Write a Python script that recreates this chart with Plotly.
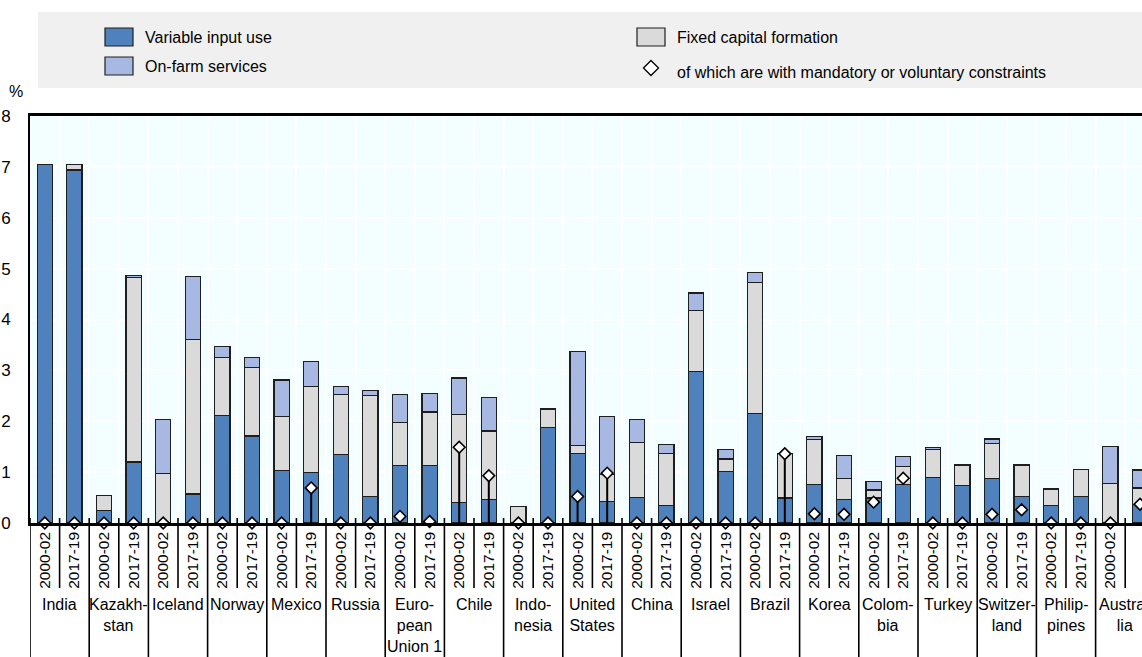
import plotly.graph_objects as go

# ---------------- data ----------------
countries = ["India", "Kazakh-<br>stan", "Iceland", "Norway", "Mexico", "Russia",
             "Euro-<br>pean<br>Union 1", "Chile", "Indo-<br>nesia", "United<br>States",
             "China", "Israel", "Brazil", "Korea", "Colom-<br>bia", "Turkey",
             "Switzer-<br>land", "Philip-<br>pines", "Austra-<br>lia"]
periods = ["2000-02", "2017-19"]

variable_input = [7.04, 6.94, 0.24, 1.20, 0.00, 0.57, 2.12, 1.71, 1.03, 0.99,
                  1.34, 0.52, 1.13, 1.13, 0.41, 0.46, 0.00, 1.88, 1.36, 0.42,
                  0.50, 0.34, 2.98, 1.02, 2.15, 0.49, 0.75, 0.46, 0.49, 0.75,
                  0.90, 0.73, 0.88, 0.52, 0.35, 0.52, 0.00, 0.36]
fixed_capital = [0.00, 0.10, 0.30, 3.63, 0.98, 3.04, 1.13, 1.35, 1.06, 1.70,
                 1.19, 1.99, 0.84, 1.05, 1.73, 1.35, 0.32, 0.35, 0.16, 0.53,
                 1.09, 1.02, 1.19, 0.24, 2.57, 0.87, 0.89, 0.41, 0.16, 0.36,
                 0.55, 0.41, 0.69, 0.62, 0.32, 0.53, 0.77, 0.33]
on_farm = [0.00, 0.00, 0.00, 0.04, 1.06, 1.23, 0.22, 0.19, 0.72, 0.48,
           0.16, 0.10, 0.56, 0.37, 0.71, 0.65, 0.01, 0.01, 1.85, 1.15,
           0.45, 0.18, 0.35, 0.19, 0.21, 0.00, 0.06, 0.45, 0.16, 0.19,
           0.03, 0.01, 0.08, 0.00, 0.00, 0.00, 0.73, 0.35]
constrained = [0, 0, 0, 0, 0, 0, 0, 0, 0, 0.69,
               0, 0, 0.13, 0.03, 1.49, 0.93, 0, 0, 0.52, 0.98,
               0, 0, 0, 0, 0, 1.36, 0.18, 0.17, 0.41, 0.88,
               0, 0, 0.17, 0.26, 0, 0, 0, 0.37]
stem_visible = [0, 0, 0, 0, 0, 0, 0, 0, 0, 1,
                0, 0, 0, 0, 1, 1, 0, 0, 1, 1,
                0, 0, 0, 0, 0, 1, 0, 0, 0, 0,
                0, 0, 0, 0, 0, 0, 0, 0]

# ---------------- style ----------------
FONT = "Liberation Sans, Arial, sans-serif"
C_VAR = "#4F81BD"
C_FIX = "#DADADA"
C_ONF = "#A7B9E3"
OUTLINE = "#1E1E1E"

W, H = 1142, 657
ML, MT, MB = 30, 116, 134
PW = 1112
PH = H - MT - MB
SLOT = 29.6

n = len(variable_input)
xpos = list(range(n))
year_labels = [periods[i % 2] for i in range(n)]


def px_x(p):
    return (p - ML) / PW


def px_y(p):
    return (H - MB - p) / PH


fig = go.Figure()
bar_style = dict(width=0.51, showlegend=False, hoverinfo="y")
fig.add_trace(go.Bar(x=xpos, y=variable_input, name="Variable input use",
                     marker=dict(color=C_VAR, line=dict(color=OUTLINE, width=1.2)), **bar_style))
fig.add_trace(go.Bar(x=xpos, y=fixed_capital, name="Fixed capital formation",
                     marker=dict(color=C_FIX, line=dict(color=OUTLINE, width=1.2)), **bar_style))
fig.add_trace(go.Bar(x=xpos, y=on_farm, name="On-farm services",
                     marker=dict(color=C_ONF, line=dict(color=OUTLINE, width=1.2)), **bar_style))
fig.add_trace(go.Scatter(
    x=xpos, y=constrained, mode="markers", showlegend=False, cliponaxis=False,
    name="of which are with mandatory or voluntary constraints",
    marker=dict(symbol="diamond", size=9, color="white", line=dict(color="black", width=1.6)),
    error_y=dict(type="data", symmetric=False, array=[0] * n,
                 arrayminus=[d if s else 0 for d, s in zip(constrained, stem_visible)],
                 color="black", thickness=2, width=0)))

shapes = []
# dividers below the axis
for b in range(n + 1):
    xb = b - 0.5
    country_edge = (b % 2 == 0)
    shapes.append(dict(type="line", xref="x", yref="paper", x0=xb, x1=xb,
                       y0=5 / PH, y1=px_y(657) if country_edge else px_y(588),
                       line=dict(color="black", width=1.6)))
# legend background
shapes.append(dict(type="rect", xref="paper", yref="paper", x0=px_x(38), x1=px_x(1200),
                   y0=px_y(88), y1=px_y(12), fillcolor="#F0F0F0", line=dict(width=0), layer="below"))
# legend swatches
for (x0, y0, col) in [(105, 28, C_VAR), (105, 57, C_ONF), (637, 28, C_FIX)]:
    shapes.append(dict(type="rect", xref="paper", yref="paper",
                       x0=px_x(x0), x1=px_x(x0 + 28), y0=px_y(y0 + 18), y1=px_y(y0),
                       fillcolor=col, line=dict(color=OUTLINE, width=1.2)))
# legend diamond
cx, cy, r = 651, 68, 7.5
shapes.append(dict(type="path", xref="paper", yref="paper",
                   path=(f"M{px_x(cx - r)},{px_y(cy)} L{px_x(cx)},{px_y(cy - r)} "
                         f"L{px_x(cx + r)},{px_y(cy)} L{px_x(cx)},{px_y(cy + r)} Z"),
                   fillcolor="white", line=dict(color="black", width=1.3)))

annotations = []
for k, c in enumerate(countries):
    annotations.append(dict(x=2 * k + 0.5, xref="x", y=px_y(594), yref="paper",
                            text=c, showarrow=False, xanchor="center", yanchor="top",
                            font=dict(family=FONT, size=16, color="black")))
annotations.append(dict(x=px_x(16), y=px_y(92), xref="paper", yref="paper", text="%",
                        showarrow=False, xanchor="center", yanchor="middle",
                        font=dict(family=FONT, size=16, color="black")))
for (x, y, t) in [(143, 37, "Variable input use"), (143, 66, "On-farm services"),
                  (675, 37, "Fixed capital formation"),
                  (675, 72, "of which are with mandatory or voluntary constraints")]:
    annotations.append(dict(x=px_x(x), y=px_y(y), xref="paper", yref="paper", text=t,
                            showarrow=False, xanchor="left", yanchor="middle",
                            font=dict(family=FONT, size=16, color="black")))

fig.update_layout(
    width=W, height=H, barmode="stack",
    margin=dict(l=ML, r=0, t=MT, b=MB, pad=0),
    paper_bgcolor="white", plot_bgcolor="#F2FEFF",
    font=dict(family=FONT, size=16, color="black"),
    shapes=shapes, annotations=annotations, showlegend=False,
    xaxis=dict(range=[-0.5, -0.5 + PW / SLOT], tickmode="array", tickvals=xpos,
               ticktext=year_labels, tickangle=-90, ticks="", showgrid=False,
               minor=dict(tickmode="array", tickvals=[b - 0.5 for b in range(n + 1)],
                          showgrid=True, gridcolor="white", gridwidth=1.5, ticks=""),
               showline=True, linecolor="black", linewidth=2.5, mirror=True,
               zeroline=False, tickfont=dict(family=FONT, size=15.5, color="black")),
    yaxis=dict(range=[0, 8], tickmode="linear", tick0=0, dtick=1, showgrid=True,
               gridcolor="white", gridwidth=1.5, showline=True, linecolor="black",
               linewidth=2, ticks="", zeroline=False, ticklabelstandoff=14,
               tickfont=dict(family=FONT, size=17, color="black")),
)

fig.write_html("out.html")
